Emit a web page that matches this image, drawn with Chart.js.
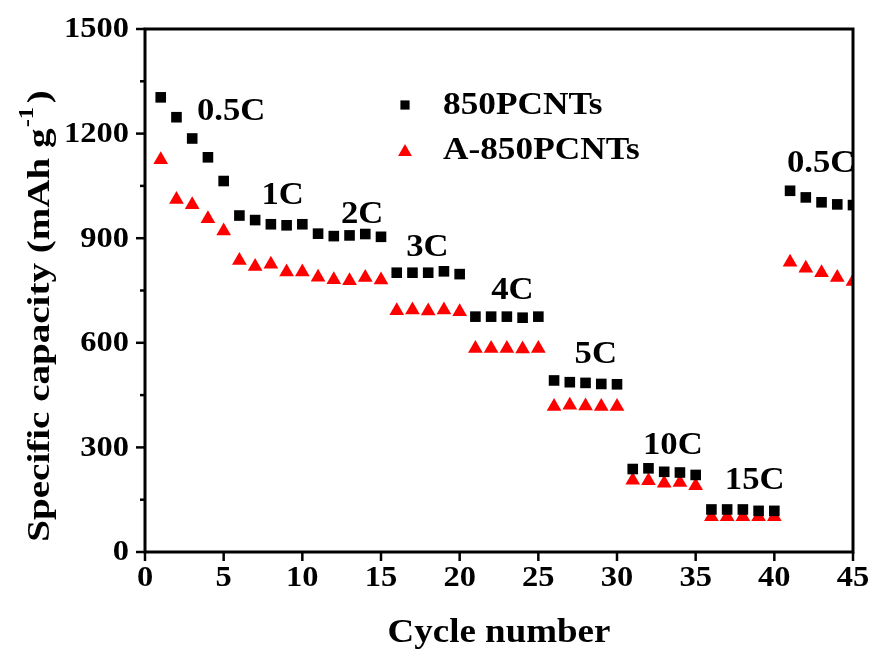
<!DOCTYPE html>
<html>
<head>
<meta charset="utf-8">
<script src="https://cdn.jsdelivr.net/npm/chart.js@4/dist/chart.umd.min.js"></script>
<style>
  html, body { margin: 0; padding: 0; background: #fff; }
  #wrap { width: 873px; height: 653px; }
</style>
</head>
<body>
<div id="wrap"><canvas id="c" width="873" height="653"></canvas></div>
<script>
// ---- data ----
const cycles = [1,2,3,4,5,6,7,8,9,10,11,12,13,14,15,16,17,18,19,20,21,22,23,24,25,26,27,28,29,30,31,32,33,34,35,36,37,38,39,40,41,42,43,44,45];
const pcnt850 = [1304,1247,1186,1132,1064,965,952,940,937,940,913,906,908,912,904,801,801,801,805,797,675,675,675,672,675,492,487,485,482,481,238,240,230,228,221,122,122,122,118,118,1036,1017,1003,997,995];
const a850pcnt = [1125,1011,996,956,921,836,819,825,803,803,788,781,778,787,780,692,694,691,694,689,584,584,584,582,584,417,421,419,417,417,206,204,197,199,190,101,101,101,101,101,831,814,801,787,776];
const xTicks = [0,5,10,15,20,25,30,35,40,45];
const yTicks = [0,300,600,900,1200,1500];
const yMinorTicks = [150,450,750,1050,1350];
const seriesNames = ["850PCNTs", "A-850PCNTs"];
const rateLabels = ["0.5C","1C","2C","3C","4C","5C","10C","15C","0.5C"];
const rateLabelX = [3.3,7.4,12.45,16.6,22.0,27.3,31.65,36.85,40.8];
const rateLabelY = [1262,1022,966,872,750,564,303,205,1112];

const FONT = '"Liberation Serif", "Times New Roman", serif';
const SX = 1.12; // horizontal stretch of the reference text

function stretchedText(ctx, text, x, y, size, align, sx) {
  sx = sx || SX;
  ctx.save();
  ctx.font = 'bold ' + size + 'px ' + FONT;
  ctx.textBaseline = 'middle';
  const w = ctx.measureText(text).width * sx;
  let x0 = x;
  if (align === 'center') x0 = x - w / 2;
  else if (align === 'right') x0 = x - w;
  ctx.translate(x0, y);
  ctx.scale(sx, 1);
  ctx.textAlign = 'left';
  ctx.fillStyle = '#000';
  ctx.fillText(text, 0, 0);
  ctx.restore();
  return w;
}

const decor = {
  id: 'decor',
  afterDraw(chart) {
    const ctx = chart.ctx;
    const a = chart.chartArea;
    const xs = chart.scales.x, ys = chart.scales.y;
    ctx.save();
    // frame
    ctx.strokeStyle = '#000';
    ctx.lineWidth = 3;
    ctx.lineCap = 'square';
    ctx.strokeRect(a.left, a.top, a.right - a.left, a.bottom - a.top);
    // y ticks
    ctx.lineWidth = 2.5;
    ctx.lineCap = 'butt';
    yTicks.forEach(v => {
      const p = ys.getPixelForValue(v);
      ctx.beginPath(); ctx.moveTo(a.left - 9, p); ctx.lineTo(a.left, p); ctx.stroke();
      stretchedText(ctx, String(v), a.left - 16, p + 1, 29, 'right');
    });
    yMinorTicks.forEach(v => {
      const p = ys.getPixelForValue(v);
      ctx.beginPath(); ctx.moveTo(a.left - 5, p); ctx.lineTo(a.left, p); ctx.stroke();
    });
    // x ticks
    xTicks.forEach(v => {
      const p = xs.getPixelForValue(v);
      ctx.beginPath(); ctx.moveTo(p, a.bottom); ctx.lineTo(p, a.bottom + 9); ctx.stroke();
      stretchedText(ctx, String(v), p, a.bottom + 27, 29, 'center');
    });
    // axis titles
    stretchedText(ctx, 'Cycle number', (a.left + a.right) / 2, 633, 33, 'center');
    // y title rotated with superscript
    ctx.save();
    ctx.translate(41, 316);
    ctx.rotate(-Math.PI / 2);
    const ST = 1.22;
    ctx.scale(ST, 1);
    ctx.fillStyle = '#000';
    ctx.textBaseline = 'middle';
    ctx.textAlign = 'left';
    const main = 'Specific capacity (mAh g';
    const sup = '-1';
    const tail = ')';
    ctx.font = 'bold 32px ' + FONT;
    const w1 = ctx.measureText(main).width;
    const wt = ctx.measureText(tail).width;
    ctx.font = 'bold 20px ' + FONT;
    const ws = ctx.measureText(sup).width;
    const total = w1 + ws + 4 + wt;
    let x0 = -total / 2;
    ctx.font = 'bold 32px ' + FONT;
    ctx.fillText(main, x0, 0);
    ctx.font = 'bold 20px ' + FONT;
    ctx.fillText(sup, x0 + w1 + 1, -13);
    ctx.font = 'bold 32px ' + FONT;
    ctx.fillText(tail, x0 + w1 + ws + 4, 0);
    ctx.restore();
    // rate annotations
    rateLabels.forEach((t, i) => {
      stretchedText(ctx, t, xs.getPixelForValue(rateLabelX[i]), ys.getPixelForValue(rateLabelY[i]), 31, 'left');
    });
    // legend
    const ds = chart.data.datasets;
    const legendY = [105, 150];
    ds.forEach((d, i) => {
      ctx.fillStyle = d.backgroundColor;
      ctx.beginPath();
      if (d.pointStyle === 'rect') {
        const s = Math.SQRT1_2 * 6.5;
        ctx.rect(405 - s, legendY[i] - s, 2 * s, 2 * s);
      } else {
        const r = 8, y = legendY[i] + 2;
        ctx.moveTo(405, y - r);
        ctx.lineTo(405 + r * 0.866, y + r / 2);
        ctx.lineTo(405 - r * 0.866, y + r / 2);
        ctx.closePath();
      }
      ctx.fill();
      stretchedText(ctx, seriesNames[i], 443, legendY[i] + 1, 31.5, 'left');
    });
    ctx.restore();
  }
};

const chart = new Chart(document.getElementById('c'), {
  type: 'scatter',
  data: {
    datasets: [
      {
        label: seriesNames[0],
        data: cycles.map((c, i) => ({ x: c, y: pcnt850[i] })),
        pointStyle: 'rect', pointRadius: 7.5, pointHoverRadius: 7.5,
        backgroundColor: '#000000', borderColor: '#000000', borderWidth: 0
      },
      {
        label: seriesNames[1],
        data: cycles.map((c, i) => ({ x: c, y: a850pcnt[i] })),
        pointStyle: 'triangle', pointRadius: 8.5, pointHoverRadius: 8.5,
        backgroundColor: '#ff0000', borderColor: '#ff0000', borderWidth: 0
      }
    ]
  },
  options: {
    responsive: false,
    animation: false,
    events: [],
    layout: { padding: { left: 145, right: 20, top: 29, bottom: 101 } },
    plugins: { legend: { display: false }, tooltip: { enabled: false } },
    scales: {
      x: { type: 'linear', min: 0, max: 45, display: false },
      y: { type: 'linear', min: 0, max: 1500, display: false }
    }
  },
  plugins: [decor]
});
</script>
</body>
</html>
